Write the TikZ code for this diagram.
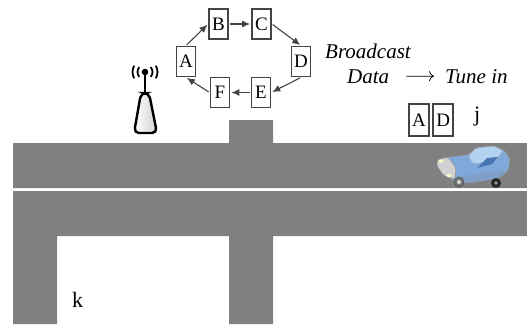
\documentclass[tikz,border=0pt]{standalone}
\usepackage{fontspec}
\setmainfont{Liberation Serif}
\usetikzlibrary{arrows.meta,positioning}
\definecolor{roadgray}{RGB}{128,128,128}
\definecolor{boxgray}{RGB}{68,68,68}
\definecolor{carblue}{RGB}{128,168,218}
\definecolor{carsky}{RGB}{178,210,242}
\definecolor{cardeep}{RGB}{72,118,178}

\begin{document}
\begin{tikzpicture}[x=1pt,y=-1pt,
  slot/.style={draw=boxgray,line width=1.8pt,fill=white,minimum width=19pt,minimum height=30pt,inner sep=0pt,font=\fontsize{19}{19}\selectfont},
  cyc/.style={-{Latex[length=8pt,width=7pt]},draw=boxgray,line width=1.1pt,shorten >=1pt,shorten <=1pt},
  label/.style={anchor=base west,inner sep=0pt,font=\fontsize{21}{21}\selectfont}]
\useasboundingbox (0,0) rectangle (527,324);

\fill[roadgray] (13,143) -- (229,143) -- (229,120) -- (273,120) -- (273,143) -- (527,143) -- (527,188) -- (13,188) -- cycle;
\fill[roadgray] (13,191) -- (527,191) -- (527,236) -- (273,236) -- (273,324) -- (229,324) -- (229,236) -- (57,236) -- (57,324) -- (13,324) -- cycle;

\node[slot] (A) at (186,61.5) {A};
\node[slot] (B) at (218.5,24) {B};
\node[slot] (C) at (261.5,24) {C};
\node[slot] (D) at (301,61.5) {D};
\node[slot] (E) at (261,92.5) {E};
\node[slot] (F) at (220,92.5) {F};
\draw[cyc] (A.north) -- (B.west);
\draw[cyc] (B.east) -- (C.west);
\draw[cyc] (C.east) -- (D.north);
\draw[cyc] (D.south) -- (E.east);
\draw[cyc] (E.west) -- (F.east);
\draw[cyc] (F.west) -- (A.south);

\draw[line width=2.4pt,shade,left color=white,middle color=white,right color=black!18,rounded corners=5pt] (141,93) -- (149,93) -- (157,133) -- (134,133) -- cycle;
\draw[line width=2.4pt] (145,74) -- (145,93);
\fill (145,72) circle (3.3pt);
\draw[line width=1.8pt] (145,72) ++(140:7.5) arc[start angle=140,end angle=220,radius=7.5];
\draw[line width=1.8pt] (145,72) ++(150:12.5) arc[start angle=150,end angle=210,radius=12.5];
\draw[line width=1.8pt] (145,72) ++(40:7.5) arc[start angle=40,end angle=-40,radius=7.5];
\draw[line width=1.8pt] (145,72) ++(30:12.5) arc[start angle=30,end angle=-30,radius=12.5];

\node[label,font=\fontsize{21}{21}\selectfont\itshape] (bcast) at (325,58) {Broadcast};
\node[label,font=\fontsize{21}{21}\selectfont\itshape] (data) at (347,83) {Data};
\node[label,font=\fontsize{21}{21}\selectfont\itshape] (tunein) at (445,83) {Tune in};
\draw[-{Computer Modern Rightarrow[length=5pt,width=10pt]},line width=.8pt,shorten <=17pt,shorten >=11pt] (data.east) -- (tunein.west);

\node[slot,minimum width=20pt,minimum height=32pt] (tA) at (419,120) {A};
\node[slot,minimum width=20pt,minimum height=32pt,right=2.5pt of tA] (tD) {D};
\node[label,font=\fontsize{22}{22}\selectfont] (j) at (474,121) {j};
\node[label,font=\fontsize{22}{22}\selectfont] (k) at (72,307) {k};

\filldraw[fill=carblue,draw=black!40,line width=.4pt,rounded corners=3pt] (441,158) -- (468,155) -- (476,148) -- (494,146) -- (504,150) -- (510,159) -- (508,171) -- (498,178) -- (470,183) -- (452,180) -- (441,170) -- cycle;
\filldraw[fill=carsky,draw=black!35,line width=.4pt,rounded corners=2pt] (468,156) -- (476,148) -- (494,146) -- (503,151) -- (495,161) -- (473,164) -- cycle;
\fill[cardeep] (477,168) -- (492,164) -- (498,157) -- (487,158) -- cycle;
\fill[cardeep!70] (455,177) -- (506,170) -- (502,176) -- (470,183) -- cycle;
\filldraw[fill=black!18,draw=black!45,line width=.4pt,rounded corners=2pt] (437,160) -- (448,157) -- (456,168) -- (455,179) -- (444,176) -- (437,166) -- cycle;
\fill[yellow!25] (441,161) ellipse (2.4pt and 1.6pt);
\fill[yellow!25] (449,175.5) ellipse (2.4pt and 1.6pt);
\filldraw[fill=black!55,draw=black!70,line width=.5pt] (459,182) circle (5pt);
\fill[black!15] (459,182) circle (2pt);
\fill[black!85] (496,183) circle (5pt);
\fill[black!40] (496,183) circle (1.8pt);
\end{tikzpicture}
\end{document}
